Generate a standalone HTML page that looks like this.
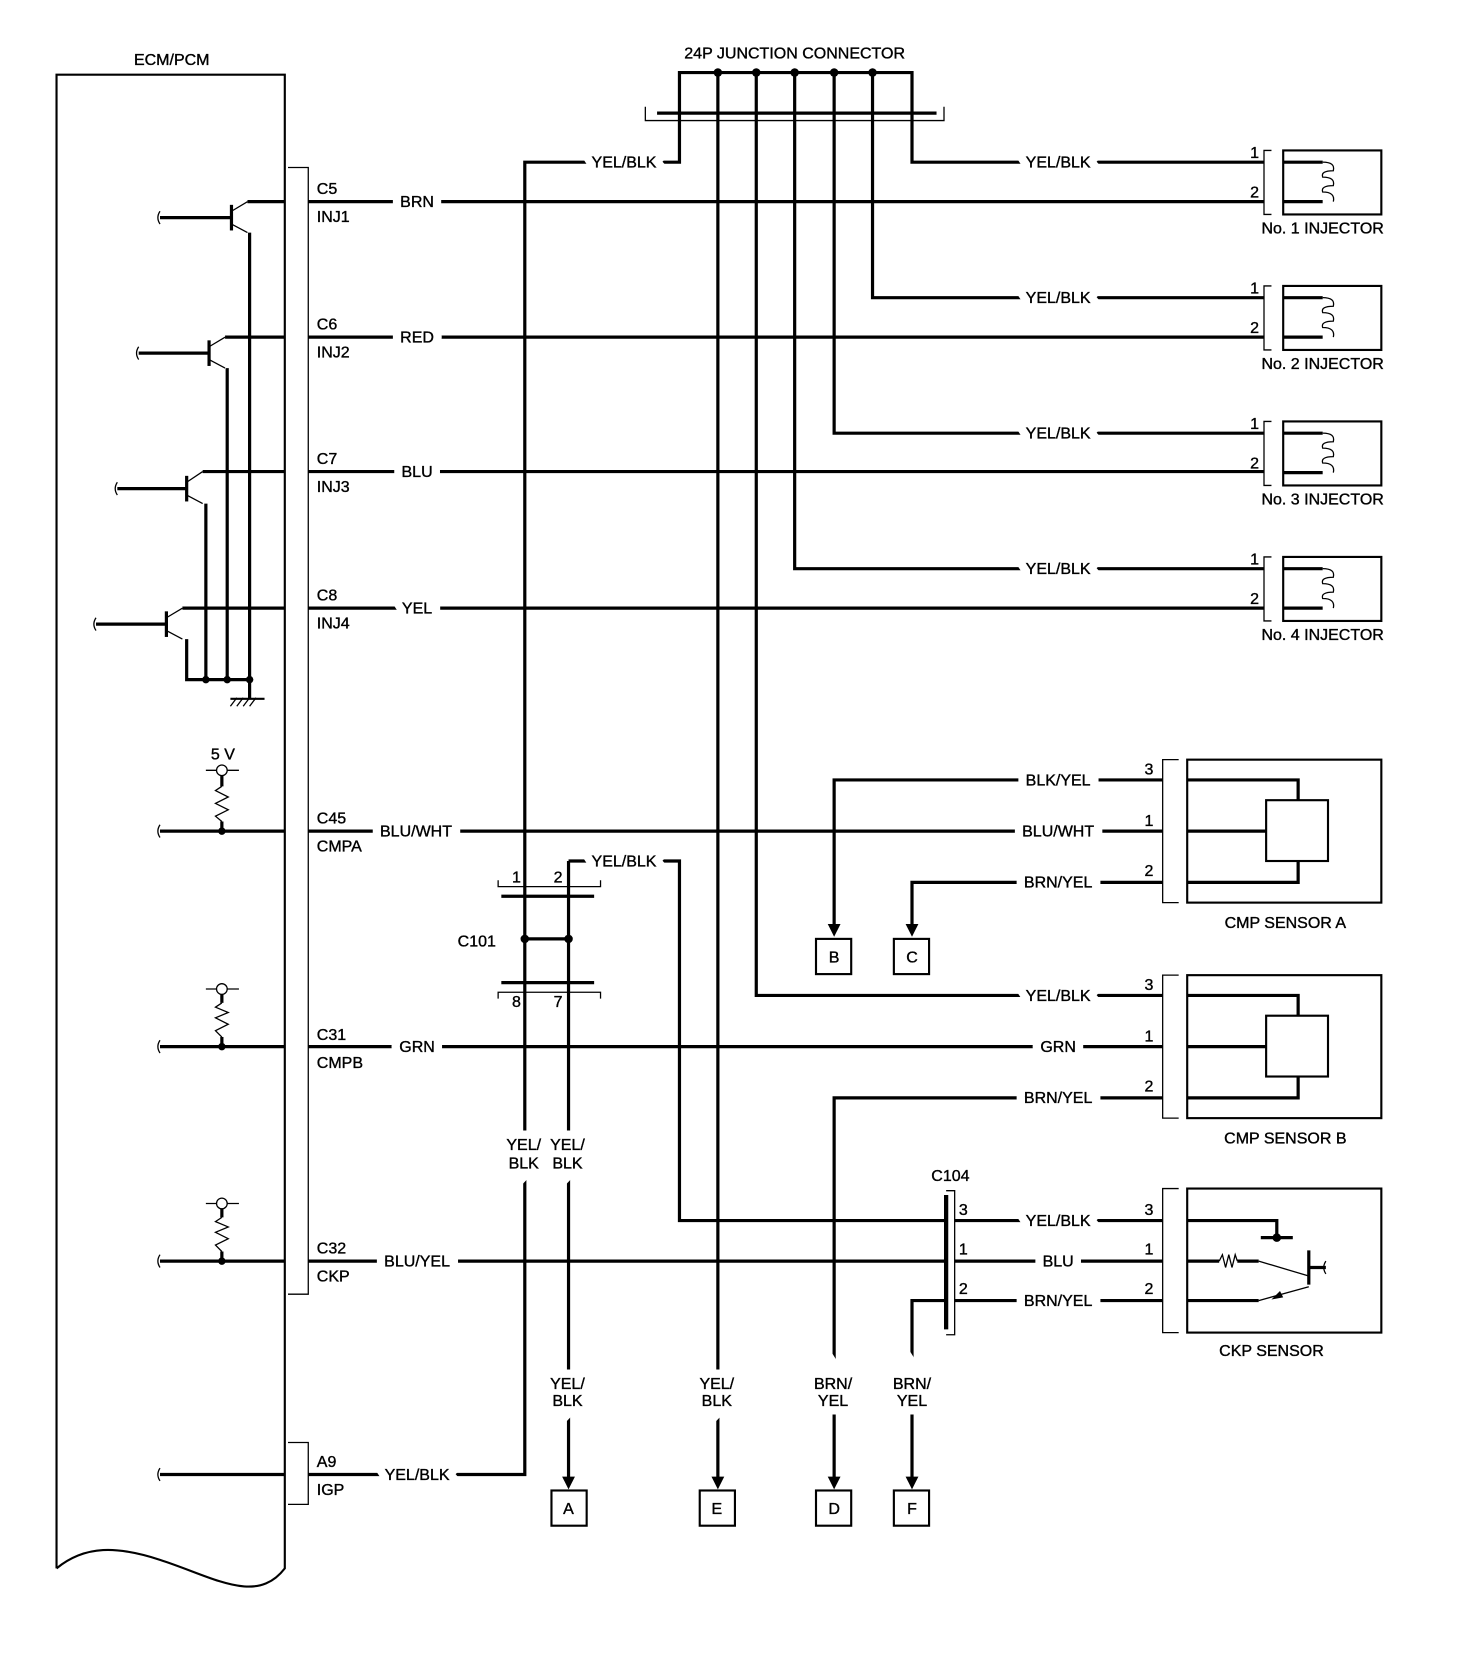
<!DOCTYPE html>
<html><head><meta charset="utf-8"><style>
html,body{margin:0;padding:0;background:#fff;}
svg{display:block;}
text{font-family:"Liberation Sans",sans-serif;font-size:15px;fill:#000;stroke:#000;stroke-width:0.35px;}
.mk text{fill:#fff;stroke:#fff;stroke-width:16px;stroke-linejoin:miter;}
.w{stroke:#000;stroke-width:3;fill:none;}
.t{stroke:#000;stroke-width:1.2;fill:none;}
</style></head><body>
<svg width="1472" height="1674" viewBox="0 0 1380 1569" preserveAspectRatio="none" xmlns="http://www.w3.org/2000/svg">
<!-- ECM box -->
<path class="t" style="stroke-width:2" d="M53,1470 L53,70 L267,70 L267,1470 C240,1505 200,1478 150,1462 C110,1449 80,1448 53,1470"/>
<text x="161" y="61" text-anchor="middle">ECM/PCM</text>
<path class="t" d="M270,157 L289,157 L289,1213 L270,1213"/>
<path class="t" d="M270,1352 L289,1352 L289,1410 L270,1410"/>

<g class="w">
<path d="M150,204 L217,204"/><path d="M217,192 L217,216" />
<path d="M232,189 L267,189"/><path d="M234,218 L234,637"/>
<path d="M130,331 L196,331"/><path d="M196,319 L196,343"/>
<path d="M211,316 L267,316"/><path d="M213,345 L213,637"/>
<path d="M110,458 L175,458"/><path d="M175,446 L175,470"/>
<path d="M190,442 L267,442"/><path d="M193,472 L193,637"/>
<path d="M90,585 L156,585"/><path d="M156,573 L156,597"/>
<path d="M171,570 L267,570"/><path d="M175,599 L175,637 L234,637 L234,655"/>
</g>
<g class="t">
<path d="M217,198 L232,189"/><path d="M217,210 L232,218"/>
<path d="M196,325 L211,316"/><path d="M196,337 L211,345"/>
<path d="M175,452 L190,442"/><path d="M175,464 L190,472"/>
<path d="M156,579 L171,570"/><path d="M156,591 L171,599"/>
<path d="M150,198 q-4,6 0,12"/><path d="M130,325 q-4,6 0,12"/><path d="M110,452 q-4,6 0,12"/><path d="M90,579 q-4,6 0,12"/>
<path d="M222,662 L228,654 M228,662 L234,654 M234,662 L240,654 M216,662 L222,654"/>
</g>
<path d="M216,655 L248,655" class="w" style="stroke-width:2"/>
<g fill="#000">
<circle cx="193" cy="637" r="3.5"/><circle cx="213" cy="637" r="3.5"/><circle cx="234" cy="637" r="3.5"/>
</g>

<text x="209" y="712" text-anchor="middle">5 V</text>
<g>
<path class="t" d="M193,722 L224,722"/>
<circle cx="208" cy="722" r="5" fill="#fff" stroke="#000" stroke-width="1.2"/>
<path class="w" d="M208,727 L208,737 M208,770 L208,779"/>
<path class="t" d="M208,737 L202,741 L214,747 L202,753 L214,759 L202,765 L208,770"/>
<path class="t" d="M193,927 L224,927"/>
<circle cx="208" cy="927" r="5" fill="#fff" stroke="#000" stroke-width="1.2"/>
<path class="w" d="M208,932 L208,940 M208,972 L208,981"/>
<path class="t" d="M208,940 L202,944 L214,949 L202,954 L214,960 L202,966 L208,972"/>
<path class="t" d="M193,1128 L224,1128"/>
<circle cx="208" cy="1128" r="5" fill="#fff" stroke="#000" stroke-width="1.2"/>
<path class="w" d="M208,1133 L208,1141 M208,1173 L208,1182"/>
<path class="t" d="M208,1141 L202,1145 L214,1150 L202,1155 L214,1161 L202,1167 L208,1173"/>
</g>
<g class="w">
<path d="M150,779 L267,779"/><path d="M150,981 L267,981"/><path d="M150,1182 L267,1182"/><path d="M150,1382 L267,1382"/>
</g>
<g class="t"><path d="M150,773 q-4,6 0,12"/><path d="M150,975 q-4,6 0,12"/><path d="M150,1176 q-4,6 0,12"/><path d="M150,1376 q-4,6 0,12"/></g>
<g fill="#000"><circle cx="208" cy="779" r="3.5"/><circle cx="208" cy="981" r="3.5"/><circle cx="208" cy="1182" r="3.5"/></g>

<g class="w">
<path d="M289,189 L1185,189"/>
<path d="M289,316 L1185,316"/>
<path d="M289,442 L1185,442"/>
<path d="M289,570 L1185,570"/>
<path d="M289,779 L1090,779"/>
<path d="M289,981 L1090,981"/>
<path d="M289,1182 L887,1182"/>
<path d="M289,1382 L492,1382 L492,152 L637,152 L637,68 L855,68 L855,152 L1185,152"/>
<path d="M818,68 L818,279 L1185,279"/>
<path d="M782,68 L782,406 L1185,406"/>
<path d="M745,68 L745,533 L1185,533"/>
<path d="M709,68 L709,933 L1090,933"/>
<path d="M673,68 L673,1386"/>
<path d="M533,807 L637,807 L637,1144 L887,1144"/>
<path d="M533,807 L533,1386"/>
<path d="M492,880 L533,880"/>
<path d="M1090,731 L782,731 L782,869"/>
<path d="M1090,827 L855,827 L855,869"/>
<path d="M1090,1029 L782,1029 L782,1386"/>
<path d="M887,1219 L855,1219 L855,1386"/>
<path d="M895,1144 L1090,1144"/><path d="M895,1182 L1090,1182"/><path d="M895,1219 L1090,1219"/>
<path d="M616,106 L878,106"/>
<path d="M470,840 L557,840"/><path d="M470,921 L557,921"/>
<path d="M887,1120 L887,1246" style="stroke-width:4"/>
</g>
<g class="t">
<path d="M605,100 L605,113 L885,113 L885,100"/>
<path d="M467,825 L467,831 L563,831 L563,825"/>
<path d="M467,936 L467,930 L563,930 L563,936"/>
<path d="M887,1116 L895,1116 L895,1251 L887,1251"/>
</g>
<g fill="#000">
<circle cx="673" cy="68" r="4"/><circle cx="709" cy="68" r="4"/><circle cx="745" cy="68" r="4"/><circle cx="782" cy="68" r="4"/><circle cx="818" cy="68" r="4"/>
<circle cx="492" cy="880" r="4"/><circle cx="533" cy="880" r="4"/>
<path d="M527,1384 L539,1384 L533,1396Z"/>
<path d="M667,1384 L679,1384 L673,1396Z"/>
<path d="M776,1384 L788,1384 L782,1396Z"/>
<path d="M849,1384 L861,1384 L855,1396Z"/>
<path d="M776,866 L788,866 L782,878Z"/>
<path d="M849,866 L861,866 L855,878Z"/>
</g>

<g fill="#fff" stroke="#000" stroke-width="2">
<rect x="517" y="1397" width="33" height="33"/><rect x="656" y="1397" width="33" height="33"/>
<rect x="765" y="1397" width="33" height="33"/><rect x="838" y="1397" width="33" height="33"/>
<rect x="765" y="880" width="33" height="33"/><rect x="838" y="880" width="33" height="33"/>
</g>
<g text-anchor="middle">
<text x="533" y="1419">A</text><text x="672" y="1419">E</text><text x="782" y="1419">D</text><text x="855" y="1419">F</text>
<text x="782" y="902">B</text><text x="855" y="902">C</text>
</g>

<g id="inj">
<path class="t" d="M1192,141 L1185,141 L1185,201 L1192,201"/>
<rect x="1203" y="141" width="92" height="60" fill="none" stroke="#000" stroke-width="2"/>
<path class="w" d="M1203,152 L1240,152 M1203,189 L1240,189"/>
<path class="t" d="M1240,152 q12,0 10,8 q-12,0 -10,6 q12,0 10,8 q-12,0 -10,6 q12,0 10,9"/>
</g>
<use href="#inj" y="127"/><use href="#inj" y="254"/><use href="#inj" y="381"/>
<g text-anchor="middle">
<text x="1240" y="219">No. 1 INJECTOR</text><text x="1240" y="346">No. 2 INJECTOR</text>
<text x="1240" y="473">No. 3 INJECTOR</text><text x="1240" y="600">No. 4 INJECTOR</text>
</g>
<g font-size="14">
<text x="1172" y="148">1</text><text x="1172" y="185">2</text>
<text x="1172" y="275">1</text><text x="1172" y="312">2</text>
<text x="1172" y="402">1</text><text x="1172" y="439">2</text>
<text x="1172" y="529">1</text><text x="1172" y="566">2</text>
</g>

<g id="cmp">
<path class="t" d="M1105,712 L1090,712 L1090,846 L1105,846"/>
<rect x="1113" y="712" width="182" height="134" fill="none" stroke="#000" stroke-width="2"/>
<path class="w" d="M1113,731 L1217,731 L1217,750 M1113,827 L1217,827 L1217,807 M1113,779 L1187,779"/>
<rect x="1187" y="750" width="58" height="57" fill="none" stroke="#000" stroke-width="2"/>
</g>
<use href="#cmp" y="202"/>
<text x="1205" y="870" text-anchor="middle">CMP SENSOR A</text>
<text x="1205" y="1072" text-anchor="middle">CMP SENSOR B</text>
<g font-size="14">
<text x="1073" y="726">3</text><text x="1073" y="774">1</text><text x="1073" y="821">2</text>
<text x="1073" y="928">3</text><text x="1073" y="976">1</text><text x="1073" y="1023">2</text>
<text x="1073" y="1139">3</text><text x="1073" y="1176">1</text><text x="1073" y="1213">2</text>
<text x="899" y="1139">3</text><text x="899" y="1176">1</text><text x="899" y="1213">2</text>
<text x="480" y="827">1</text><text x="519" y="827">2</text><text x="480" y="944">8</text><text x="519" y="944">7</text>
</g>

<path class="t" d="M1105,1114 L1090,1114 L1090,1249 L1105,1249"/>
<rect x="1113" y="1114" width="182" height="135" fill="none" stroke="#000" stroke-width="2"/>
<path class="w" d="M1113,1144 L1197,1144 L1197,1160 M1182,1160 L1212,1160 M1113,1182 L1143,1182 M1160,1182 L1180,1182 M1113,1219 L1180,1219 M1227,1172 L1227,1204 M1227,1188 L1243,1188"/>
<circle cx="1197" cy="1160" r="4" fill="#000"/>
<path class="t" d="M1143,1182 L1146,1176 L1149,1188 L1152,1176 L1155,1188 L1158,1176 L1160,1182 M1180,1182 L1227,1196 M1180,1219 L1227,1206 M1243,1182 q-4,6 0,12"/>
<path d="M1192,1218 L1200,1210 L1203,1216Z" fill="#000"/>
<text x="1192" y="1271" text-anchor="middle">CKP SENSOR</text>

<!-- masks first -->
<g class="mk" text-anchor="middle">
<text x="391" y="194">BRN</text>
<text x="391" y="321">RED</text>
<text x="391" y="447">BLU</text>
<text x="391" y="575">YEL</text>
<text x="390" y="784">BLU/WHT</text>
<text x="391" y="986">GRN</text>
<text x="391" y="1187">BLU/YEL</text>
<text x="391" y="1387">YEL/BLK</text>
<text x="585" y="157">YEL/BLK</text>
<text x="585" y="812">YEL/BLK</text>
<text x="992" y="157">YEL/BLK</text>
<text x="992" y="284">YEL/BLK</text>
<text x="992" y="411">YEL/BLK</text>
<text x="992" y="538">YEL/BLK</text>
<text x="992" y="736">BLK/YEL</text>
<text x="992" y="784">BLU/WHT</text>
<text x="992" y="832">BRN/YEL</text>
<text x="992" y="938">YEL/BLK</text>
<text x="992" y="986">GRN</text>
<text x="992" y="1034">BRN/YEL</text>
<text x="992" y="1149">YEL/BLK</text>
<text x="992" y="1187">BLU</text>
<text x="992" y="1224">BRN/YEL</text>
<text x="491" y="1078">YEL/</text><text x="491" y="1095">BLK</text>
<text x="532" y="1078">YEL/</text><text x="532" y="1095">BLK</text>
<text x="532" y="1302">YEL/</text><text x="532" y="1318">BLK</text>
<text x="672" y="1302">YEL/</text><text x="672" y="1318">BLK</text>
<text x="781" y="1302">BRN/</text><text x="781" y="1318">YEL</text>
<text x="855" y="1302">BRN/</text><text x="855" y="1318">YEL</text>
</g>
<g text-anchor="middle">
<text x="391" y="194">BRN</text>
<text x="391" y="321">RED</text>
<text x="391" y="447">BLU</text>
<text x="391" y="575">YEL</text>
<text x="390" y="784">BLU/WHT</text>
<text x="391" y="986">GRN</text>
<text x="391" y="1187">BLU/YEL</text>
<text x="391" y="1387">YEL/BLK</text>
<text x="585" y="157">YEL/BLK</text>
<text x="585" y="812">YEL/BLK</text>
<text x="992" y="157">YEL/BLK</text>
<text x="992" y="284">YEL/BLK</text>
<text x="992" y="411">YEL/BLK</text>
<text x="992" y="538">YEL/BLK</text>
<text x="992" y="736">BLK/YEL</text>
<text x="992" y="784">BLU/WHT</text>
<text x="992" y="832">BRN/YEL</text>
<text x="992" y="938">YEL/BLK</text>
<text x="992" y="986">GRN</text>
<text x="992" y="1034">BRN/YEL</text>
<text x="992" y="1149">YEL/BLK</text>
<text x="992" y="1187">BLU</text>
<text x="992" y="1224">BRN/YEL</text>
<text x="491" y="1078">YEL/</text><text x="491" y="1095">BLK</text>
<text x="532" y="1078">YEL/</text><text x="532" y="1095">BLK</text>
<text x="532" y="1302">YEL/</text><text x="532" y="1318">BLK</text>
<text x="672" y="1302">YEL/</text><text x="672" y="1318">BLK</text>
<text x="781" y="1302">BRN/</text><text x="781" y="1318">YEL</text>
<text x="855" y="1302">BRN/</text><text x="855" y="1318">YEL</text>
<text x="745" y="55">24P JUNCTION CONNECTOR</text>
<text x="891" y="1107">C104</text>
<text x="447" y="887">C101</text>
</g>
<g>
<text x="297" y="182">C5</text><text x="297" y="208">INJ1</text>
<text x="297" y="309">C6</text><text x="297" y="335">INJ2</text>
<text x="297" y="435">C7</text><text x="297" y="461">INJ3</text>
<text x="297" y="563">C8</text><text x="297" y="589">INJ4</text>
<text x="297" y="772">C45</text><text x="297" y="798">CMPA</text>
<text x="297" y="975">C31</text><text x="297" y="1001">CMPB</text>
<text x="297" y="1175">C32</text><text x="297" y="1201">CKP</text>
<text x="297" y="1375">A9</text><text x="297" y="1401">IGP</text>
</g>
</svg>
</body></html>
